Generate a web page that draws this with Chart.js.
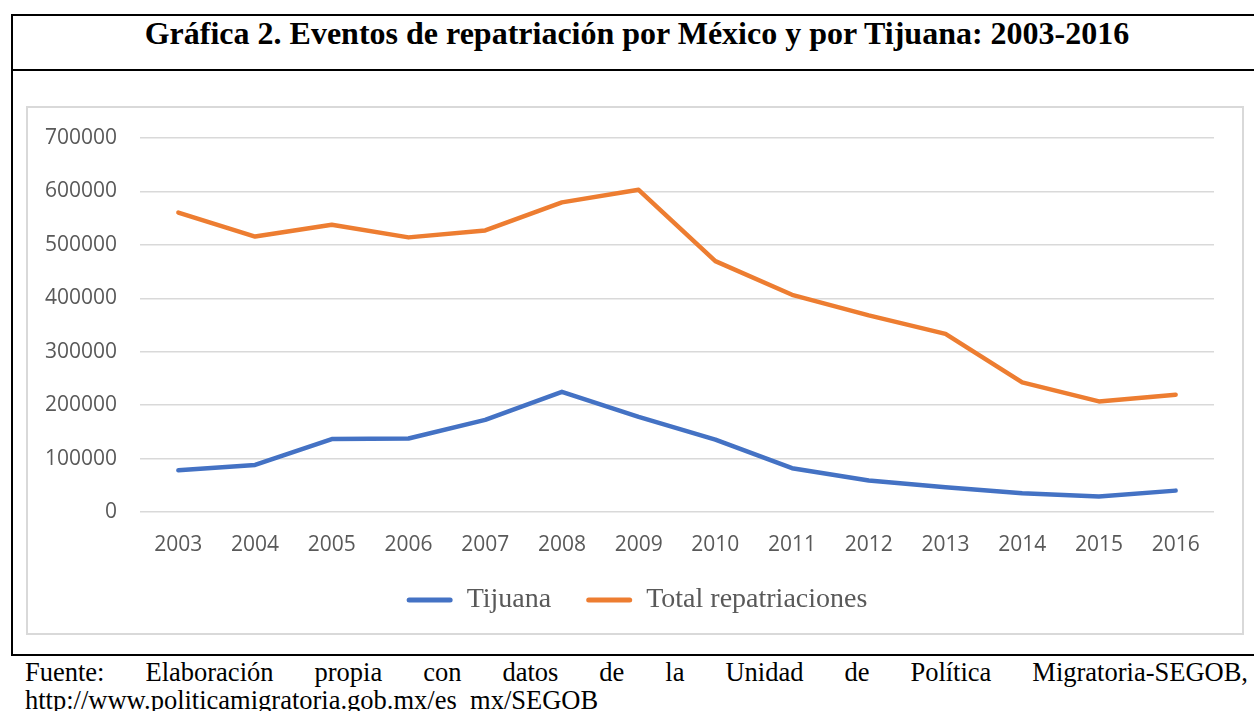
<!DOCTYPE html>
<html lang="es">
<head>
<meta charset="utf-8">
<title>Gráfica 2. Eventos de repatriación</title>
<script src="https://cdn.jsdelivr.net/npm/chart.js@4.4.0/dist/chart.umd.min.js"></script>
<style>
  html, body { margin: 0; padding: 0; background: #fff; }
  body { width: 1254px; height: 711px; overflow: hidden; position: relative; }
  .frame { position: absolute; left: 11px; top: 14px; width: 1252px; height: 642px;
           box-sizing: border-box; border: 2px solid #000; }
  .title-rule { position: absolute; left: 11px; top: 69px; width: 1252px; height: 2px; background: #000; }
  .title { position: absolute; left: 11px; top: 17px; width: 1252px; text-align: center;
           font: bold 32px/32px "Liberation Serif", "Times New Roman", serif; color: #000; }
  .chart-box { position: absolute; left: 26px; top: 106px; width: 1218px; height: 529px;
               box-sizing: border-box; border: 2px solid #d9d9d9; }
  .chart-wrap { position: absolute; left: 28px; top: 108px; width: 1214px; height: 525px; }
  .chart-wrap canvas { display: block; }
  .foot { position: absolute; left: 25px; width: 1223px; color: #000;
          font: 26.5px/28px "Liberation Serif", "Times New Roman", serif; white-space: nowrap; }
  .foot1 { top: 658px; text-align: justify; text-align-last: justify; white-space: normal; }
  .foot2 { top: 686px; }
</style>
</head>
<body>
<div class="frame"></div>
<div class="title-rule"></div>
<div class="title">Gráfica 2. Eventos de repatriación por México y por Tijuana: 2003-2016</div>
<div class="chart-box"></div>
<div class="chart-wrap"><canvas id="chart" width="1214" height="525"></canvas></div>
<div class="foot foot1">Fuente: Elaboración propia con datos de la Unidad de Política Migratoria-SEGOB,</div>
<div class="foot foot2">http://www.politicamigratoria.gob.mx/es_mx/SEGOB</div>

<script>
// Años del periodo
const years = ['2003', '2004', '2005', '2006', '2007', '2008', '2009',
               '2010', '2011', '2012', '2013', '2014', '2015', '2016'];

// Eventos de repatriación por Tijuana
const tijuana = [78000, 88000, 136500, 137500, 172500, 225000, 178000,
                 135500, 82000, 59000, 46500, 35000, 29000, 40000];

// Total de repatriaciones en México
const totalRepatriaciones = [560500, 515500, 537500, 514000, 527000, 579500, 603000,
                             469500, 406500, 368000, 333500, 242500, 207000, 219500];

// Etiquetas del eje vertical
const yTickLabels = ['0', '100000', '200000', '300000', '400000', '500000', '600000', '700000'];

const seriesNames = ['Tijuana', 'Total repatriaciones'];
const seriesColors = ['#4472C4', '#ED7D31'];

const axisFont = { family: '"Open Sans", "Noto Sans", sans-serif', size: 21 };
const axisColor = '#595959';

// Desplaza la leyenda para centrarla bajo el área de trazado
const legendShift = {
  id: 'legendShift',
  afterLayout(chart) {
    if (chart.legend) {
      chart.legend.left += 16;
      chart.legend.right += 16;
    }
  }
};

function lineDataset(label, data, color) {
  return {
    label,
    data,
    borderColor: color,
    backgroundColor: color,
    borderWidth: 4.5,
    borderCapStyle: 'round',
    borderJoinStyle: 'round',
    pointRadius: 0,
    pointHoverRadius: 0,
    tension: 0,
    fill: false
  };
}

new Chart(document.getElementById('chart'), {
  type: 'line',
  data: {
    labels: years,
    datasets: [
      lineDataset(seriesNames[0], tijuana, seriesColors[0]),
      lineDataset(seriesNames[1], totalRepatriaciones, seriesColors[1])
    ]
  },
  options: {
    responsive: false,
    animation: false,
    devicePixelRatio: 1,
    layout: { padding: { top: 30, right: 28, bottom: 9, left: 0 } },
    plugins: {
      tooltip: { enabled: false },
      title: { display: false },
      legend: {
        position: 'bottom',
        align: 'center',
        labels: {
          boxWidth: 46,
          boxHeight: 5,
          useBorderRadius: true,
          borderRadius: 2.5,
          padding: 35,
          color: axisColor,
          font: { family: '"Liberation Serif", "Times New Roman", serif', size: 28 },
          generateLabels(chart) {
            return chart.data.datasets.map((ds, i) => ({
              text: ds.label,
              fillStyle: ds.borderColor,
              strokeStyle: ds.borderColor,
              lineWidth: 0,
              fontColor: axisColor,
              hidden: false,
              borderRadius: 2.5,
              datasetIndex: i
            }));
          }
        }
      }
    },
    scales: {
      x: {
        offset: true,
        grid: { display: false, drawTicks: false },
        border: { display: false },
        ticks: { color: axisColor, font: axisFont, padding: 20, maxRotation: 0, autoSkip: false },
        afterFit(scale) { scale.height = 39; }
      },
      y: {
        min: 0,
        max: 700000,
        grid: {
          color: '#d9d9d9',
          lineWidth: 1.5,
          drawTicks: true,
          tickLength: 23,
          tickColor: 'rgba(0,0,0,0)'
        },
        border: { display: false },
        ticks: {
          stepSize: 100000,
          color: axisColor,
          font: axisFont,
          padding: 0,
          callback: (value) => yTickLabels[Math.round(value / 100000)]
        },
        afterFit(scale) { scale.width = 112; }
      }
    }
  },
  plugins: [legendShift]
});
</script>
</body>
</html>
